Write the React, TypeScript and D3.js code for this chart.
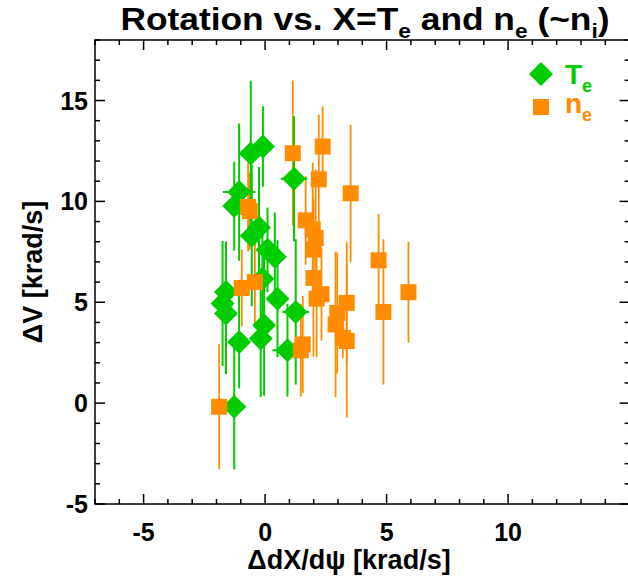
import React from "react";
import * as d3 from "d3";

const teX = [-0.59, -0.09, 1.19, -1.07, -1.27, -0.25, -0.55, 0.1, 0.4, -0.11, -1.61, -1.75, -1.61, 0.51, 1.26, -0.04, -1.07, -0.18, 0.92, -1.27];
const teY = [12.38, 12.72, 11.12, 10.46, 9.77, 8.7, 8.3, 7.6, 7.25, 6.17, 5.51, 4.94, 4.44, 5.18, 4.52, 3.86, 3.03, 3.2, 2.62, -0.18];
const teYErr = [3.6, 2.0, 3.1, 3.4, 2.2, 3.0, 3.5, 2.1, 2.2, 2.5, 2.5, 3.1, 3.0, 2.9, 3.6, 3.5, 2.3, 2.9, 2.3, 3.1];
const teXErr = [0.3, 0.3, 0.55, 0.67, 0.3, 0.3, 0.3, 0.3, 0.3, 0.3, 0.3, 0.3, 0.3, 0.3, 0.55, 0.3, 0.3, 0.3, 0.62, 0.48];

const neX = [1.14, 2.37, 2.21, 3.52, -0.7, -0.63, 1.67, 1.96, 2.08, 1.99, 4.67, 1.99, 2.32, 2.12, 3.36, 2.97, 4.87, 5.9, 2.9, 3.2, 3.36, 1.55, 1.47, -0.96, -0.42, -1.89];
const neY = [12.39, 12.72, 11.09, 10.4, 9.72, 9.52, 9.06, 8.61, 8.18, 7.61, 7.08, 6.2, 5.4, 5.18, 4.97, 4.47, 4.52, 5.5, 3.9, 3.23, 3.08, 2.91, 2.62, 5.71, 6.0, -0.18];
const neYErr = [3.6, 2.0, 3.2, 3.4, 2.2, 1.9, 2.2, 3.3, 3.4, 2.1, 2.3, 3.9, 2.3, 2.9, 3.0, 3.0, 3.6, 2.5, 3.6, 1.0, 3.8, 2.4, 2.3, 1.9, 2.2, 3.1];
const neXErr = [0.2, 0.2, 0.2, 0.2, 0.2, 0.2, 0.2, 0.2, 0.2, 0.2, 0.2, 0.2, 0.2, 0.2, 0.2, 0.2, 0.2, 0.2, 0.2, 0.2, 0.2, 0.2, 0.2, 0.2, 0.2, 0.2];

const xMajor = [-5, 0, 5, 10];
const yMajor = [-5, 0, 5, 10, 15];

const GREEN = "#00CC00";
const ORANGE = "#FF8C00";
const FONT = "'Liberation Sans', Arial, Helvetica, sans-serif";

export default function App() {
  const W = 628, H = 581;
  const L = 95, R = 629.6, T = 40, B = 504;
  const x = d3.scaleLinear().domain([-7, 15]).range([L, R]);
  const y = d3.scaleLinear().domain([-5, 18]).range([B, T]);
  const xMinor = d3.range(-7, 16, 1);
  const yMinor = d3.range(-5, 19, 1);
  const teData = teX.map((v, i) => ({ x: v, y: teY[i], ye: teYErr[i], xe: teXErr[i] }));
  const neData = neX.map((v, i) => ({ x: v, y: neY[i], ye: neYErr[i], xe: neXErr[i] }));
  const dSize = 12;
  const sHalf = 8;

  const errBars = (data, color, key, w) =>
    data.map((d, i) => (
      <g key={key + i} stroke={color} strokeWidth={w}>
        <line x1={x(d.x)} x2={x(d.x)} y1={y(d.y - d.ye)} y2={y(d.y + d.ye)} />
        <line x1={x(d.x - d.xe)} x2={x(d.x + d.xe)} y1={y(d.y)} y2={y(d.y)} />
      </g>
    ));

  return (
    <svg width={W} height={H} style={{ position: "absolute", left: 0, top: 0 }} fontFamily={FONT} fontWeight="bold">
      <rect width={W} height={H} fill="white" />
      <defs>
        <clipPath id="plotclip">
          <rect x={L} y={T} width={R - L} height={B - T} />
        </clipPath>
      </defs>
      <text transform="translate(365,30) scale(1.14,1)" textAnchor="middle" fontSize={31}>
        Rotation vs. X=T<tspan fontSize={20} dy={8}>e</tspan>
        <tspan dy={-8}> and n</tspan><tspan fontSize={20} dy={8}>e</tspan>
        <tspan dy={-8}> (~n</tspan><tspan fontSize={20} dy={8}>i</tspan>
        <tspan dy={-8}>)</tspan>
      </text>

      <g clipPath="url(#plotclip)">
        {errBars(neData, ORANGE, "ne", 1.8)}
        {errBars(teData, GREEN, "te", 2)}
        {teData.map((d, i) => {
          const cx = x(d.x), cy = y(d.y);
          return (
            <path key={"td" + i} fill={GREEN}
              d={`M${cx},${cy - dSize}L${cx + dSize},${cy}L${cx},${cy + dSize}L${cx - dSize},${cy}Z`} />
          );
        })}
        {neData.map((d, i) => (
          <rect key={"ns" + i} fill={ORANGE} x={x(d.x) - sHalf} y={y(d.y) - sHalf} width={2 * sHalf} height={2 * sHalf} />
        ))}
      </g>

      <g stroke="black" strokeWidth={1.5} fill="none">
        <rect x={L} y={T} width={R - L} height={B - T} />
        {xMinor.map((v) => {
          const len = xMajor.includes(v) ? 10 : 5;
          return (
            <g key={"xt" + v}>
              <line x1={x(v)} x2={x(v)} y1={B} y2={B - len} />
              <line x1={x(v)} x2={x(v)} y1={T} y2={T + len} />
            </g>
          );
        })}
        {yMinor.map((v) => {
          const len = yMajor.includes(v) ? 10 : 5;
          return (
            <g key={"yt" + v}>
              <line x1={L} x2={L + len} y1={y(v)} y2={y(v)} />
              <line x1={R} x2={R - len} y1={y(v)} y2={y(v)} />
            </g>
          );
        })}
      </g>

      {xMajor.map((v) => (
        <text key={"xl" + v} x={x(v)} y={541} textAnchor="middle" fontSize={25}>{v}</text>
      ))}
      {yMajor.map((v) => (
        <text key={"yl" + v} x={88} y={y(v) + 9} textAnchor="end" fontSize={25}>{v}</text>
      ))}

      <text x={349} y={569} textAnchor="middle" fontSize={27}>ΔdX/dψ [krad/s]</text>
      <text transform={`translate(42,${(T + B) / 2}) rotate(-90)`} textAnchor="middle" fontSize={27}>ΔV [krad/s]</text>

      <path fill={GREEN} d={`M541,${74 - 12}L553,74L541,86L529,74Z`} />
      <text x={565} y={84} fontSize={28} fill={GREEN}>T<tspan fontSize={18} dy={8}>e</tspan></text>
      <rect x={533} y={99} width={16} height={16} fill={ORANGE} />
      <text x={565} y={113} fontSize={28} fill={ORANGE}>n<tspan fontSize={18} dy={8}>e</tspan></text>
    </svg>
  );
}
